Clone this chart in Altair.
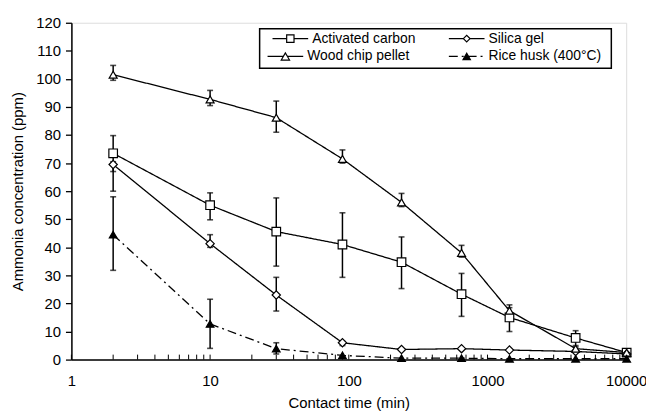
import altair as alt
import pandas as pd

# ---- data ----
times = [2, 10, 30, 90, 240, 650, 1440, 4320, 10080]
series = ["Activated carbon", "Silica gel", "Wood chip pellet", "Rice husk (400°C)"]

ac = [73.5, 55.0, 45.6, 41.0, 34.7, 23.3, 15.0, 7.7, 2.5]
ac_hi = [79.8, 59.4, 57.6, 52.3, 43.7, 30.7, 18.5, 10.3, None]
ac_lo = [60.0, 49.8, 33.3, 29.3, 25.3, 15.4, 10.0, 5.0, None]

sg = [69.5, 41.3, 23.0, 6.0, 3.6, 3.9, 3.4, 2.9, 2.0]
sg_hi = [70.5, 44.5, 29.3, 6.5, None, None, None, None, None]
sg_lo = [67.0, 40.0, 17.3, 5.0, None, None, None, None, None]

wc = [101.5, 92.7, 86.2, 71.5, 56.0, 38.0, 17.4, 3.9, 2.5]
wc_hi = [104.8, 95.9, 92.1, 74.7, 59.2, 40.7, 19.5, 4.5, None]
wc_lo = [99.5, 90.5, 81.0, 70.0, 54.5, 36.5, 15.5, 3.0, None]

rh = [44.5, 12.7, 3.9, 1.5, 0.5, 0.5, 0.3, 0.3, 0.3]
rh_hi = [58.0, 21.5, 6.0, None, None, None, None, None, None]
rh_lo = [31.8, 4.0, 2.0, None, None, None, None, None, None]

y_ticks = [0, 10, 20, 30, 40, 50, 60, 70, 80, 90, 100, 110, 120]
x_labels = [1, 10, 100, 1000, 10000]
minor_ticks = [m * 10 ** k for k in range(4) for m in range(1, 10)] + [10000]

FONT = "Liberation Sans"

rows = []
for name, vals, his, los in [
    (series[0], ac, ac_hi, ac_lo),
    (series[1], sg, sg_hi, sg_lo),
    (series[2], wc, wc_hi, wc_lo),
    (series[3], rh, rh_hi, rh_lo),
]:
    for t, v, h, l in zip(times, vals, his, los):
        rows.append({"series": name, "time": t, "value": v, "hi": h, "lo": l})
df = pd.DataFrame(rows)
df_err = df.dropna(subset=["hi", "lo"])
one = pd.DataFrame({"k": [0]})

xscale = alt.Scale(type="log", domain=[1, 10000], nice=False)
yscale = alt.Scale(domain=[0, 120], nice=False)

shape_scale = alt.Scale(domain=series, range=["square", "diamond", "triangle-up", "triangle-up"])
fill_scale = alt.Scale(domain=series, range=["white", "white", "white", "black"])
dash_scale = alt.Scale(domain=series, range=[[1, 0], [1, 0], [1, 0], [9, 4, 2, 4]])
size_scale = alt.Scale(domain=series, range=[75, 60, 95, 80])

x_axis = alt.Axis(values=x_labels, format="d", ticks=False, grid=False,
                  domainColor="black", domainWidth=1.5,
                  labelFont=FONT, labelFontSize=15, labelColor="black",
                  labelPadding=14, labelFlush=False, labelOverlap=False,
                  title="Contact time (min)", titleFont=FONT, titleFontSize=15,
                  titleFontWeight="normal", titleColor="black",
                  titleY=43, titleBaseline="middle")
y_axis = alt.Axis(values=y_ticks, tickCount=13, tickSize=6, tickColor="black", tickWidth=1.3,
                  grid=False, domainColor="black", domainWidth=1.5,
                  labelFont=FONT, labelFontSize=15, labelColor="black",
                  labelPadding=5, labelOverlap=False,
                  title="Ammonia concentration (ppm)", titleFont=FONT,
                  titleFontSize=15, titleFontWeight="normal", titleColor="black",
                  titleX=-54, titleY=170, titleAlign="center",
                  titleBaseline="middle", titleAngle=-90)


def X(field):
    return alt.X(field, scale=xscale, axis=x_axis)


def Y(field):
    return alt.Y(field, scale=yscale, axis=y_axis)


base = alt.Chart(df)

minor = alt.Chart(pd.DataFrame({"t": minor_ticks})).mark_rule(color="black", strokeWidth=1).encode(
    x=X("t:Q"),
    y=alt.value(340), y2=alt.value(335),
)

lines = base.mark_line(color="black", strokeWidth=1.3).encode(
    x=X("time:Q"), y=Y("value:Q"),
    detail="series:N",
    strokeDash=alt.StrokeDash("series:N", scale=dash_scale, legend=None),
)

err = alt.Chart(df_err).mark_rule(color="black", strokeWidth=1.5).encode(
    x=X("time:Q"), y=Y("lo:Q"), y2="hi:Q",
)
cap_hi = alt.Chart(df_err).mark_tick(color="black", thickness=1.6, size=6, orient="horizontal").encode(
    x=X("time:Q"), y=Y("hi:Q"))
cap_lo = alt.Chart(df_err).mark_tick(color="black", thickness=1.6, size=6, orient="horizontal").encode(
    x=X("time:Q"), y=Y("lo:Q"))

points = base.mark_point(stroke="black", strokeWidth=1.2, opacity=1, filled=False).encode(
    x=X("time:Q"), y=Y("value:Q"),
    shape=alt.Shape("series:N", scale=shape_scale, legend=None),
    fill=alt.Fill("series:N", scale=fill_scale, legend=None),
    size=alt.Size("series:N", scale=size_scale, legend=None),
)

# ---- custom legend (layout in pixels) ----
leg_layers = [
    alt.Chart(one).mark_rect(fill="white", stroke="black", strokeWidth=1.5).encode(
        x=alt.value(190), x2=alt.value(545), y=alt.value(6), y2=alt.value(46))
]
leg_pos = [(203, 16), (381, 16), (198, 34), (381, 34)]
leg_shape = ["square", "diamond", "triangle-up", "triangle-up"]
leg_fill = ["white", "white", "white", "black"]
leg_size = [55, 45, 70, 55]
for i, name in enumerate(series):
    lx, ly = leg_pos[i]
    dash = [9, 4, 2, 4] if i == 3 else [1, 0]
    leg_layers.append(alt.Chart(one).mark_rule(color="black", strokeWidth=1.3, strokeDash=dash).encode(
        x=alt.value(lx), x2=alt.value(lx + 36), y=alt.value(ly)))
    leg_layers.append(alt.Chart(one).mark_point(shape=leg_shape[i], fill=leg_fill[i], stroke="black",
                                                strokeWidth=1.2, size=leg_size[i], opacity=1).encode(
        x=alt.value(lx + 18), y=alt.value(ly)))
    leg_layers.append(alt.Chart(one).mark_text(align="left", baseline="middle", font=FONT,
                                               fontSize=14, color="black", text=name).encode(
        x=alt.value(lx + 40), y=alt.value(ly)))

chart = alt.layer(minor, lines, err, cap_hi, cap_lo, points, *leg_layers).properties(
    width=560, height=340,
    autosize=alt.AutoSizeParams(type="none"),
    padding={"left": 64, "top": 13, "right": 20, "bottom": 51},
).configure_view(stroke="black", strokeWidth=1.5).configure(background="white")

chart.save("out.html", embed_options={"renderer": "svg", "actions": False})
